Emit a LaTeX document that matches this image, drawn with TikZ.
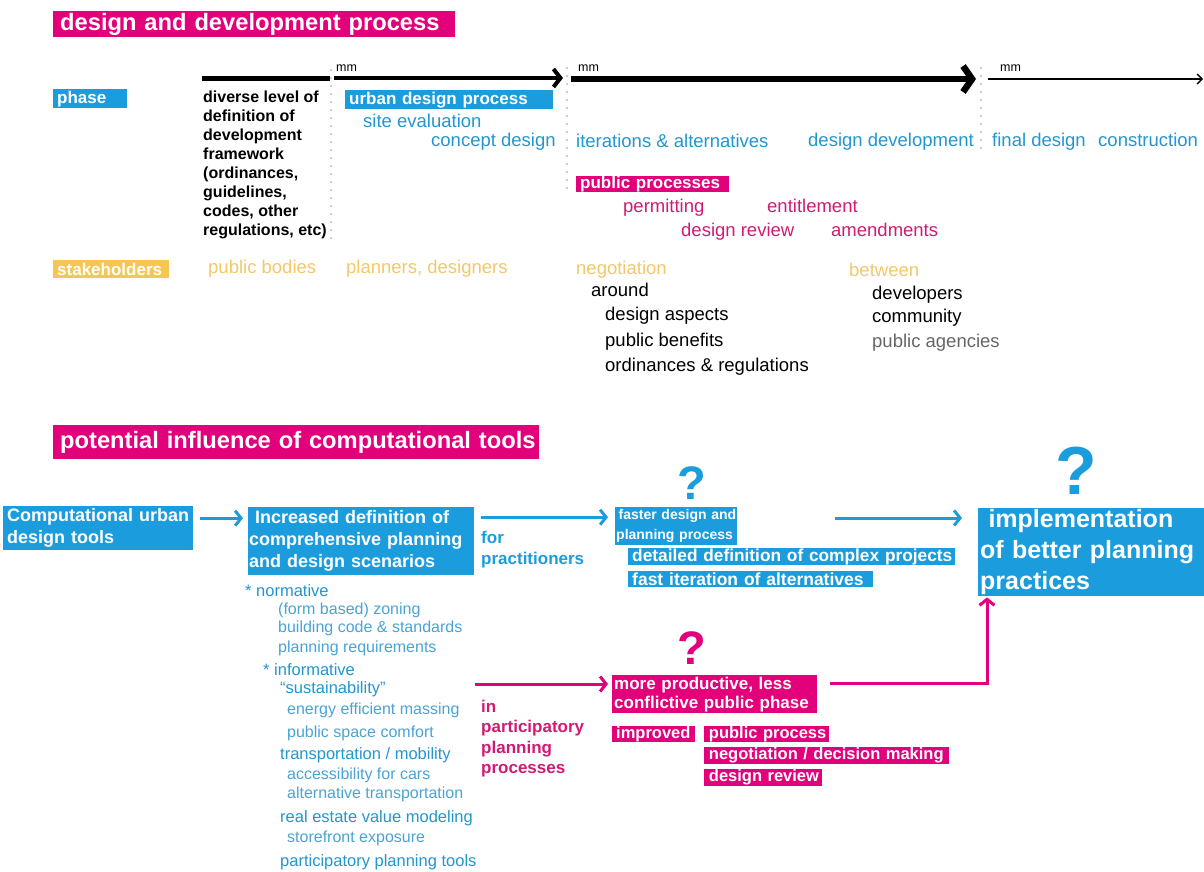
\documentclass[tikz,border=0pt]{standalone}
\usepackage{fontspec}
\setmainfont{Liberation Sans}
\usepackage{xcolor}
\usetikzlibrary{arrows.meta}

\definecolor{boxblue}{RGB}{27,157,221}
\definecolor{txtblue}{RGB}{33,150,207}
\definecolor{lightblue}{RGB}{74,163,212}
\definecolor{boxmag}{RGB}{226,0,123}
\definecolor{txtmag}{RGB}{208,26,118}
\definecolor{boxyel}{RGB}{246,197,84}
\definecolor{txtyel}{RGB}{241,200,106}
\definecolor{dotgray}{RGB}{196,196,196}

\newcommand{\keepline}[1]{\mbox{#1}}

\tikzset{
  tbox/.style={anchor=north west, inner xsep=4pt, inner ysep=0pt, text=white, align=left,
    font=\fontsize{16.5}{19}\selectfont\bfseries},
  bluebox/.style={tbox, fill=boxblue},
  magbox/.style={tbox, fill=boxmag},
  yelbox/.style={tbox, fill=boxyel},
  headbox/.style={tbox, fill=boxmag, inner xsep=7pt, font=\fontsize{23.7}{26}\selectfont\bfseries},
  lbl/.style={anchor=west, inner sep=0pt, text height=13pt, text depth=0pt, font=\fontsize{18.5}{21}\selectfont},
  sublbl/.style={anchor=west, inner sep=0pt, text height=11.5pt, text depth=1.5pt, text=lightblue, font=\fontsize{16}{19}\selectfont},
  subhead/.style={sublbl, text=txtblue, font=\fontsize{16.5}{19}\selectfont},
  qmark/.style={inner sep=0pt, font=\fontsize{47}{50}\selectfont\bfseries},
  mmlbl/.style={anchor=west, inner sep=0pt, font=\fontsize{12.5}{14}\selectfont},
  dotline/.style={dotgray, line width=2.5pt, dash pattern=on 0pt off 8pt, line cap=round},
  barrow/.style={boxblue, line width=3pt, -{Straight Barb[length=6pt,width=15pt]}},
  marrow/.style={boxmag, line width=3pt, -{Straight Barb[length=6pt,width=15pt]}},
}

\begin{document}
\begin{tikzpicture}[x=1pt,y=-1pt]
\useasboundingbox (0,0) rectangle (1204,871);

\node[headbox, text width=388pt, minimum height=26pt] (head1) at (53,11) {\keepline{design and development process}};
\node[bluebox, text width=66pt, minimum height=19pt, font=\fontsize{17}{19}\selectfont\bfseries] (phase) at (53,89) {\keepline{phase}};
\node[yelbox, text width=108pt, minimum height=18pt, font=\fontsize{17}{19}\selectfont\bfseries] (stake) at (53,260) {\keepline{stakeholders}};

\coordinate (t0) at (202,78);
\coordinate (t1) at (330,78);
\coordinate (t2) at (334,78);
\coordinate (t3) at (563,78);
\coordinate (t4) at (571,79);
\coordinate (t5) at (976,79);
\coordinate (t6) at (988,79);
\coordinate (t7) at (1203,79);
\draw[line width=5pt] (t0) -- (t1);
\draw[line width=4pt, -{Straight Barb[length=7pt,width=18pt]}] (t2) -- (t3);
\draw[line width=6.5pt, -{Straight Barb[length=9pt,width=26pt]}] (t4) -- (t5);
\draw[line width=1.3pt, -{Straight Barb[length=5pt,width=10pt]}] (t6) -- (t7);
\foreach \x/\ya/\yb in {331/70/238, 567/68/192, 981/68/155}
  \draw[dotline] (\x,\ya) -- (\x,\yb);
\foreach \x in {336,578,1000}
  \node[mmlbl] (mm\x) at (\x,68) {mm};

\node[anchor=north west, inner sep=0pt, align=left, font=\fontsize{16}{19}\selectfont\bfseries] (frame) at (203,91)
  {diverse level of\\definition of\\development\\framework\\(ordinances,\\guidelines,\\codes, other\\regulations, etc)};

\node[bluebox, text width=200pt, minimum height=19pt, font=\fontsize{17}{19}\selectfont\bfseries] (urban) at (345,90) {\keepline{urban design process}};
\node[lbl, text=txtblue] (site) at (363,121) {site evaluation};
\node[lbl, text=txtblue] (concept) at (431,140) {concept design};
\node[lbl, text=txtblue] (iter) at (576,141) {iterations \& alternatives};
\node[lbl, text=txtblue] (devel) at (808,140) {design development};
\node[lbl, text=txtblue] (final) at (992,140) {final design};
\node[lbl, text=txtblue] (constr) at (1098,140) {construction};

\node[magbox, text width=145pt, minimum height=16pt, font=\fontsize{17}{19}\selectfont\bfseries] (pubproc) at (576,176) {\keepline{public processes}};
\node[lbl, text=txtmag] (permit) at (623,206) {permitting};
\node[lbl, text=txtmag] (entit) at (767,206) {entitlement};
\node[lbl, text=txtmag] (review) at (681,230) {design review};
\node[lbl, text=txtmag] (amend) at (831,230) {amendments};

\node[lbl, text=txtyel] (bodies) at (208,267) {public bodies};
\node[lbl, text=txtyel] (planners) at (346,267) {planners, designers};
\node[lbl, text=txtyel] (negot) at (576,268) {negotiation};
\node[lbl] (around) at (591,290) {around};
\node[lbl] (aspects) at (605,314) {design aspects};
\node[lbl] (benefits) at (605,340) {public benefits};
\node[lbl] (ordin) at (605,365) {ordinances \& regulations};
\node[lbl, text=txtyel] (between) at (849,270) {between};
\node[lbl] (developers) at (872,293) {developers};
\node[lbl] (community) at (872,316) {community};
\node[lbl, text=black!60] (agencies) at (872,341) {public agencies};

\node[headbox, text width=472pt, minimum height=34pt] (head2) at (53,425) {\keepline{potential influence of computational tools}};

\node[bluebox, text width=182pt, minimum height=44pt, font=\fontsize{18}{22}\selectfont\bfseries] (tools) at (3,506)
  {\keepline{Computational urban}\\\keepline{design tools}};
\node[bluebox, inner xsep=1pt, text width=224pt, minimum height=68pt, font=\fontsize{18}{22}\selectfont\bfseries] (scen) at (248,507)
  {\keepline{\ Increased definition of}\\\keepline{comprehensive planning}\\\keepline{and design scenarios}};
\node[bluebox, inner xsep=1pt, text width=120pt, minimum height=38pt, font=\fontsize{14}{20}\selectfont\bfseries] (faster) at (615,507)
  {\keepline{\hspace{2.5pt}faster design and}\\\keepline{planning process}};
\node[bluebox, text width=319pt, minimum height=17pt, font=\fontsize{17.3}{19}\selectfont\bfseries] (detail) at (628,548) {\keepline{detailed definition of complex projects}};
\node[bluebox, text width=237pt, minimum height=16pt, font=\fontsize{17.5}{19}\selectfont\bfseries] (fastit) at (628,571) {\keepline{fast iteration of alternatives}};
\node[bluebox, inner xsep=2pt, text width=222pt, minimum height=88pt, font=\fontsize{25}{31}\selectfont\bfseries] (impl) at (978,508)
  {\keepline{\ implementation}\\\keepline{of better planning}\\\keepline{practices}};

\node[qmark, text=boxblue] (q1) at (692,483) {?};
\node[qmark, text=boxblue, font=\fontsize{68}{70}\selectfont\bfseries] (q2) at (1076,471) {?};
\node[qmark, text=boxmag] (q3) at (692,648) {?};

\node[anchor=north west, inner sep=0pt, align=left, text=boxblue, font=\fontsize{17}{21}\selectfont\bfseries] (forprac) at (481,531)
  {for\\practitioners};
\node[anchor=north west, inner sep=0pt, align=left, text=txtmag, font=\fontsize{17}{20.3}\selectfont\bfseries] (inpart) at (481,700)
  {in\\participatory\\planning\\processes};

\foreach \n/\x/\y/\t in {norm/245/591/{* normative}, inform/263/670/{* informative}, sust/280/688/{``sustainability''},
    transp/280/754/{transportation / mobility}, estate/280/817/{real estate value modeling}, ptools/280/861/{participatory planning tools}}
  \node[subhead] (\n) at (\x,\y) {\t};
\foreach \n/\x/\y/\t in {zoning/278/609/{(form based) zoning}, bcode/278/627/{building code \& standards},
    preq/278/647/{planning requirements}, energy/287/709/{energy efficient massing}, pspace/287/732/{public space comfort},
    access/287/774/{accessibility for cars}, altern/287/793/{alternative transportation}, store/287/837/{storefront exposure}}
  \node[sublbl] (\n) at (\x,\y) {\t};

\node[magbox, inner xsep=2pt, text width=201pt, minimum height=38pt, font=\fontsize{17}{19}\selectfont\bfseries] (prod) at (612,675)
  {\keepline{more productive, less}\\\keepline{conflictive public phase}};
\node[magbox, text width=75pt, minimum height=16pt] (improved) at (612,726) {\keepline{improved}};
\node[magbox, inner xsep=2pt, text width=121pt, minimum height=16pt] (pprocess) at (704,726) {\keepline{\,public process}};
\node[magbox, inner xsep=2pt, text width=241pt, minimum height=17pt] (negdec) at (704,747) {\keepline{\,negotiation / decision making}};
\node[magbox, inner xsep=2pt, text width=114pt, minimum height=17pt] (dreview) at (704,769) {\keepline{\,design review}};

\coordinate (fastout) at (835,518);
\coordinate (partin) at (475,684);
\draw[barrow, shorten <=7pt, shorten >=5pt] ([yshift=10pt]tools.east) -- ([yshift=10pt]tools.east -| scen.west);
\draw[barrow, shorten <=7pt, shorten >=7pt] ([yshift=24pt]scen.east) -- ([yshift=24pt]scen.east -| faster.west);
\draw[barrow, shorten >=16pt] (fastout) -- (fastout -| impl.west);
\draw[marrow, shorten >=4pt] (partin) -- (partin -| prod.west);
\draw[marrow, shorten <=13pt, shorten >=1pt] ([yshift=11pt]prod.east) -| ([xshift=9pt]impl.south west);
\end{tikzpicture}
\end{document}
